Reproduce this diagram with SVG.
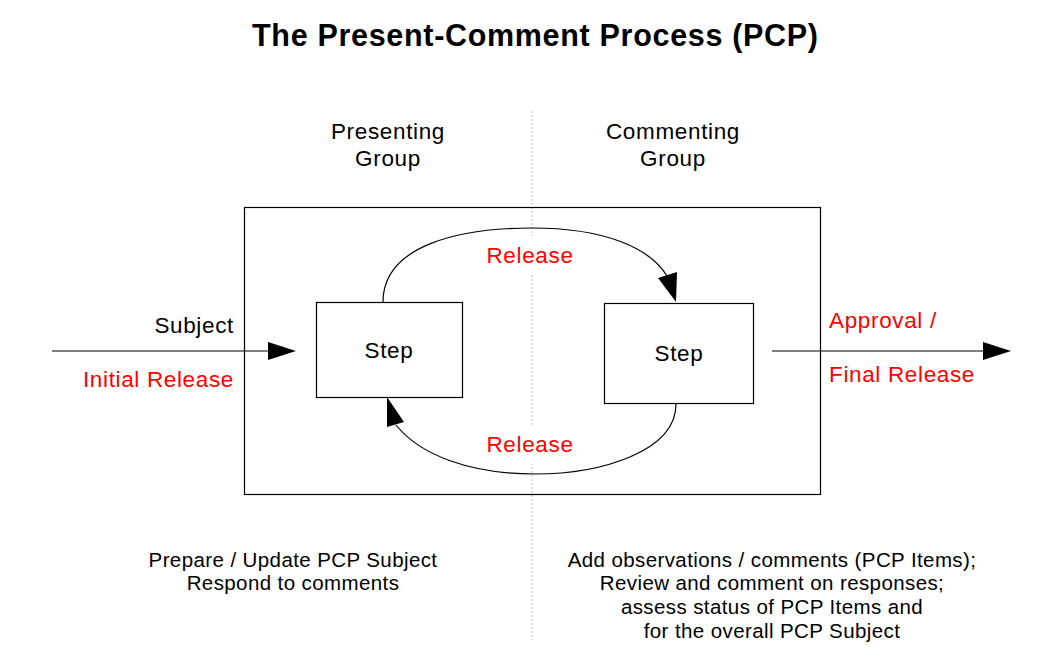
<svg xmlns="http://www.w3.org/2000/svg" width="1061" height="668" viewBox="0 0 1061 668">
<style>
text{font-family:"Liberation Sans",Arial,sans-serif;fill:#000}
.t{font-size:22.5px;letter-spacing:0.65px}
.r{fill:#ff0000}
.b{font-size:20.5px;letter-spacing:0.4px}
.ln{fill:none;stroke:#000;stroke-width:1.2}
.box{fill:#fff;stroke:#000;stroke-width:1.2}
.ah{fill:#000;stroke:none}
</style>
<rect width="1061" height="668" fill="#fff"/>
<text x="535" y="46" text-anchor="middle" style="font-size:30.5px;font-weight:bold" textLength="566" lengthAdjust="spacing">The Present-Comment Process (PCP)</text>
<line x1="532" y1="111" x2="532" y2="640" stroke="#bbb" stroke-width="1" stroke-dasharray="2,2"/>
<g id="headers">
<text class="t" x="388" y="139" text-anchor="middle">Presenting</text>
<text class="t" x="388" y="166" text-anchor="middle">Group</text>
<text class="t" x="673" y="139" text-anchor="middle">Commenting</text>
<text class="t" x="673" y="166" text-anchor="middle">Group</text>
</g>
<g id="process">
<rect x="244.5" y="207.5" width="576" height="287" fill="none" stroke="#000" stroke-width="1.2"/>
</g>
<g id="connectors">
<line class="ln" x1="52" y1="351" x2="270" y2="351"/>
<polygon class="ah" points="296,351 268,342 268,360"/>
<line class="ln" x1="772" y1="351" x2="985" y2="351"/>
<polygon class="ah" points="1011,351 983,342 983,360"/>
<path class="ln" d="M383,302 C383,245 460,228 532,228 C605,228 650,248 667,276"/>
<polygon class="ah" points="676,302 658,278 677,272"/>
<path class="ln" d="M676,404 C676,452 600,474 535,474 C470,474 420,455 396,425"/>
<polygon class="ah" points="387,397 387,427 404,422"/>
</g>
<g id="step-presenting">
<rect class="box" x="316.5" y="302.5" width="146" height="95"/>
<text class="t" x="389" y="358" text-anchor="middle">Step</text>
</g>
<g id="step-commenting">
<rect class="box" x="604.5" y="303.5" width="149" height="100"/>
<text class="t" x="679" y="361" text-anchor="middle">Step</text>
</g>
<g id="labels">
<rect x="486" y="236" width="90" height="38" fill="#fff"/>
<text class="t r" x="530" y="263" text-anchor="middle">Release</text>
<rect x="486" y="426" width="90" height="38" fill="#fff"/>
<text class="t r" x="530" y="452" text-anchor="middle">Release</text>
<text class="t" x="234" y="333" text-anchor="end">Subject</text>
<text class="t r" x="234" y="387" text-anchor="end">Initial Release</text>
<text class="t r" x="829" y="328">Approval /</text>
<text class="t r" x="829" y="382">Final Release</text>
</g>
<g id="notes">
<text class="b" x="293" y="567" text-anchor="middle">Prepare / Update PCP Subject</text>
<text class="b" x="293" y="590" text-anchor="middle">Respond to comments</text>
<text class="b" x="772" y="567" text-anchor="middle">Add observations / comments (PCP Items);</text>
<text class="b" x="772" y="590" text-anchor="middle">Review and comment on responses;</text>
<text class="b" x="772" y="614" text-anchor="middle">assess status of PCP Items and</text>
<text class="b" x="772" y="638" text-anchor="middle">for the overall PCP Subject</text>
</g>
</svg>
